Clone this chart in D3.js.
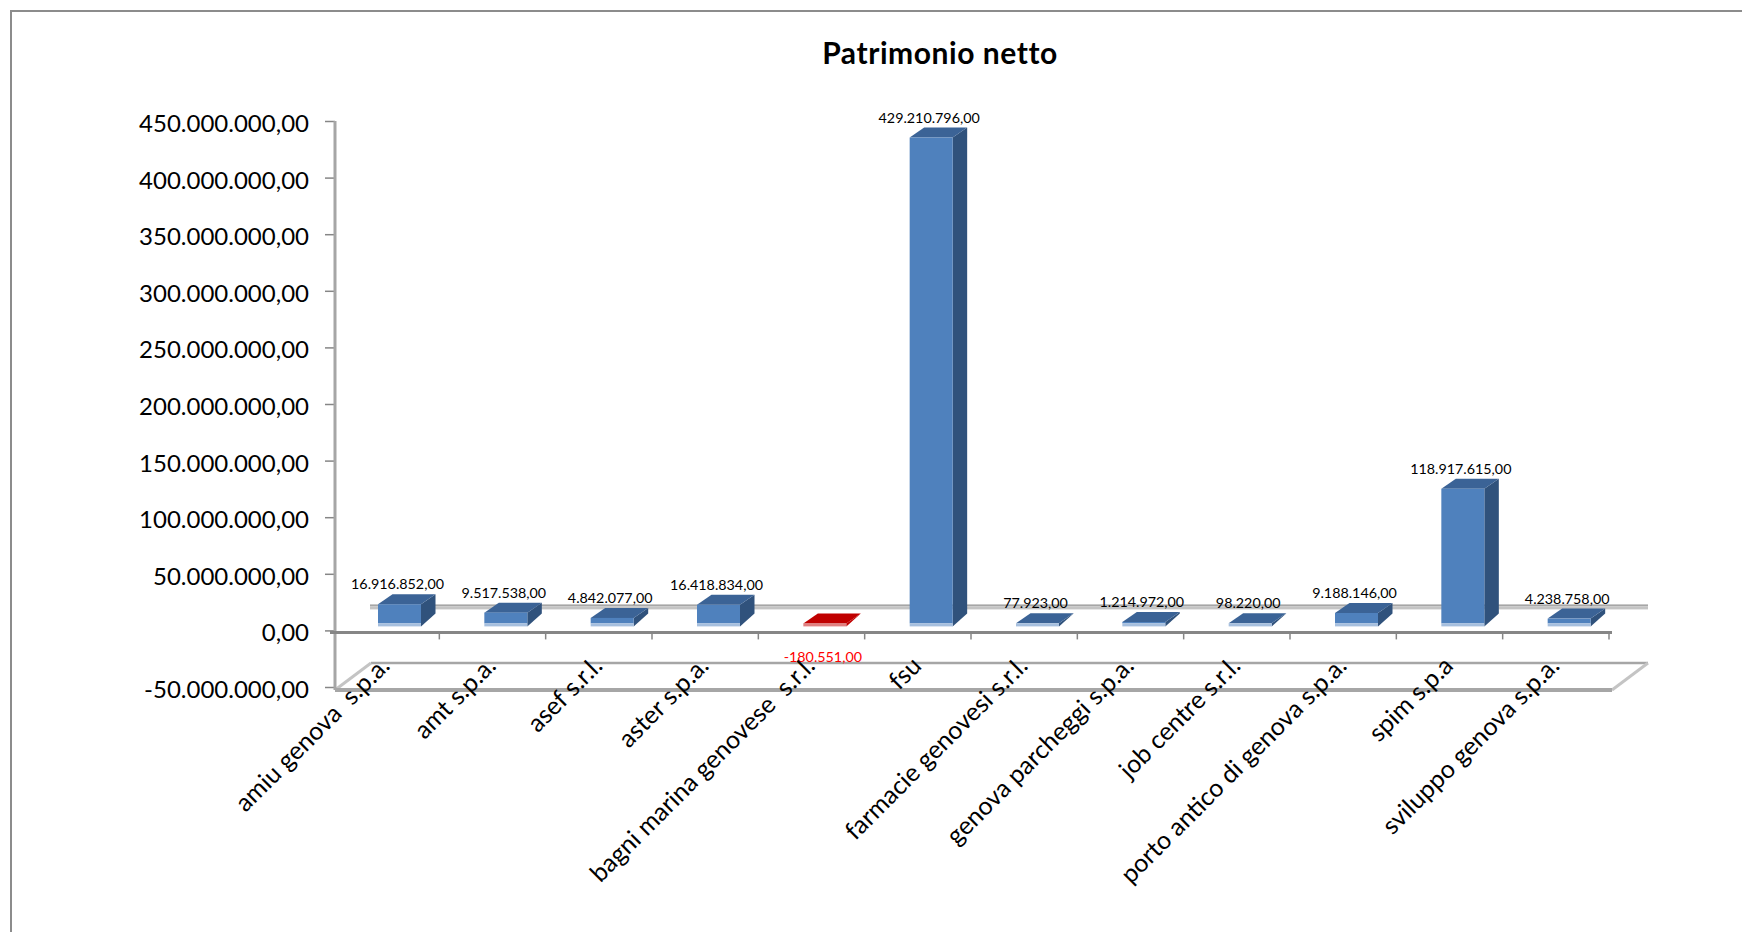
<!DOCTYPE html>
<html>
<head>
<meta charset="utf-8">
<script src="https://cdn.jsdelivr.net/npm/d3@7"></script>
<style>
  body { margin: 0; background: #fff; }
  text { font-family: Lato, sans-serif; fill: #000; }
</style>
</head>
<body>
<div id="chart"></div>
<script>
const categories = [
  "amiu genova  s.p.a.",
  "amt s.p.a.",
  "asef s.r.l.",
  "aster s.p.a.",
  "bagni marina genovese  s.r.l.",
  "fsu",
  "farmacie genovesi s.r.l.",
  "genova parcheggi s.p.a.",
  "job centre s.r.l.",
  "porto antico di genova s.p.a.",
  "spim s.p.a",
  "sviluppo genova s.p.a.",
];
const values = [
  16916852, 9517538, 4842077, 16418834, -180551, 429210796, 77923, 1214972,
  98220, 9188146, 118917615, 4238758,
];
const yTicks = [
  -50000000, 0, 50000000, 100000000, 150000000, 200000000, 250000000,
  300000000, 350000000, 400000000, 450000000,
];

const width = 1742;
const height = 932;

const it = d3.formatLocale({
  decimal: ",",
  thousands: ".",
  grouping: [3],
  currency: ["", " €"],
  minus: "-",
});
const formatValue = it.format(",.2f");

const x = d3.scaleBand().domain(categories).range([333, 1609]);
const y = d3.scaleLinear().domain([-50000000, 450000000]).range([687, 121]);

// the 3d look of the original: depth of the box and how far the floor sits above zero
const depthX = 14.5;
const depthY = 10;
const floorLift = 7;
const stripH = 3;
const barW = 43;
const barLeft = 45;

const svg = d3
  .select("#chart")
  .append("svg")
  .attr("width", width)
  .attr("height", height)
  .style("display", "block");

// outer frame, the right side is cut off in the original
svg
  .append("path")
  .attr("d", "M11,932V11H1742")
  .attr("fill", "none")
  .attr("stroke", "#8c8c8c")
  .attr("stroke-width", 2);

svg
  .append("text")
  .attr("x", 940)
  .attr("y", 64)
  .attr("text-anchor", "middle")
  .attr("font-size", 30)
  .attr("font-weight", 700)
  .attr("letter-spacing", 0.55)
  .text("Patrimonio netto");

// floor of the 3d plot
const floor = svg.append("g");
const x0 = 335;
const x1 = 1609;
const yBottom = y(-50000000) + 3;
const yBack = yBottom - 27;
floor
  .append("line")
  .attr("x1", x0 + 36)
  .attr("x2", x1 + 39)
  .attr("y1", yBack)
  .attr("y2", yBack)
  .attr("stroke", "#a6a6a6")
  .attr("stroke-width", 2.5);
floor
  .selectAll(".diagonal")
  .data([x0, x1 + 3])
  .join("line")
  .attr("class", "diagonal")
  .attr("x1", (d) => d)
  .attr("x2", (d) => d + 36)
  .attr("y1", yBottom)
  .attr("y2", yBack)
  .attr("stroke", "#c4c4c4")
  .attr("stroke-width", 3);
floor
  .append("line")
  .attr("x1", x0)
  .attr("x2", x1 + 3)
  .attr("y1", yBottom)
  .attr("y2", yBottom)
  .attr("stroke", "#a6a6a6")
  .attr("stroke-width", 4);

// grey band behind the bars, at the back wall
floor
  .append("rect")
  .attr("x", x0 + 35)
  .attr("y", y(0) - 26)
  .attr("width", x1 + 39 - x0 - 35)
  .attr("height", 2)
  .attr("fill", "#a6a6a6");
floor
  .append("rect")
  .attr("x", x0 + 35)
  .attr("y", y(0) - 24)
  .attr("width", x1 + 39 - x0 - 35)
  .attr("height", 3)
  .attr("fill", "#c4c4c4");

// y axis
const yAxis = svg
  .append("g")
  .attr("transform", `translate(${x0},0)`)
  .call(
    d3
      .axisLeft(y)
      .tickValues(yTicks)
      .tickFormat(formatValue)
      .tickSizeOuter(0)
      .tickSizeInner(10)
      .tickPadding(16)
  );
yAxis.select(".domain").remove();
yAxis
  .selectAll(".tick line")
  .attr("stroke", "#868686")
  .attr("stroke-width", 1.5);
yAxis
  .selectAll(".tick text")
  .attr("font-size", 24)
  .attr("dy", "0.44em")
  .style("font-family", "Lato, sans-serif");
svg
  .append("line")
  .attr("x1", x0)
  .attr("x2", x0)
  .attr("y1", y(450000000))
  .attr("y2", yBottom)
  .attr("stroke", "#a6a6a6")
  .attr("stroke-width", 3);

// x axis line with ticks at the band edges
const xAxisY = y(0) + 2;
svg
  .append("line")
  .attr("x1", x0 - 5)
  .attr("x2", x1 + 3)
  .attr("y1", xAxisY)
  .attr("y2", xAxisY)
  .attr("stroke", "#868686")
  .attr("stroke-width", 3);
svg
  .append("g")
  .selectAll("line")
  .data(categories)
  .join("line")
  .attr("x1", (d) => x(d) + x.bandwidth())
  .attr("x2", (d) => x(d) + x.bandwidth())
  .attr("y1", xAxisY)
  .attr("y2", xAxisY + 7)
  .attr("stroke", "#868686")
  .attr("stroke-width", 1.5);

// bars
const bar = svg
  .append("g")
  .selectAll("g")
  .data(categories.map((name, i) => ({ name, value: values[i] })))
  .join("g")
  .attr("transform", (d) => `translate(${x(d.name) + barLeft},0)`);

const base = y(0) - floorLift;
const frontTop = (d) => Math.min(y(d.value) - floorLift, base);

bar
  .append("path")
  .attr(
    "d",
    (d) =>
      `M${barW},${frontTop(d)}l${depthX},${-depthY}V${base - depthY}l${-depthX},${
        depthY + stripH
      }Z`
  )
  .attr("fill", (d) => (d.value < 0 ? "#c00000" : "#30527c"));

bar
  .append("path")
  .attr(
    "d",
    (d) =>
      `M0,${frontTop(d)}l${depthX},${-depthY}h${barW}l${-depthX},${depthY}Z`
  )
  .attr("fill", (d) => (d.value < 0 ? "#c00000" : "#3b6396"));

bar
  .append("rect")
  .attr("width", barW)
  .attr("y", frontTop)
  .attr("height", (d) => base - frontTop(d))
  .attr("fill", "#4f81bd");

bar
  .append("rect")
  .attr("width", barW)
  .attr("y", base)
  .attr("height", stripH)
  .attr("fill", (d) => (d.value < 0 ? "#e08080" : "#a6bfde"));

// value labels
bar
  .append("text")
  .attr("x", barW / 2 - 2)
  .attr("y", (d) => (d.value < 0 ? y(0) + 32 : frontTop(d) - 15))
  .attr("text-anchor", "middle")
  .attr("font-size", 14.3)
  .style("fill", (d) => (d.value < 0 ? "#ff0000" : "#000"))
  .text((d) => formatValue(d.value));

// category labels, rotated, end of the text at the top right
svg
  .append("g")
  .selectAll("text")
  .data(categories)
  .join("text")
  .attr(
    "transform",
    (d) => `translate(${x(d) + x.bandwidth() / 2 + 5},${y(0) + 37}) rotate(-45)`
  )
  .attr("text-anchor", "end")
  .attr("font-size", 25)
  .style("white-space", "pre")
  .text((d) => d);
</script>
</body>
</html>
